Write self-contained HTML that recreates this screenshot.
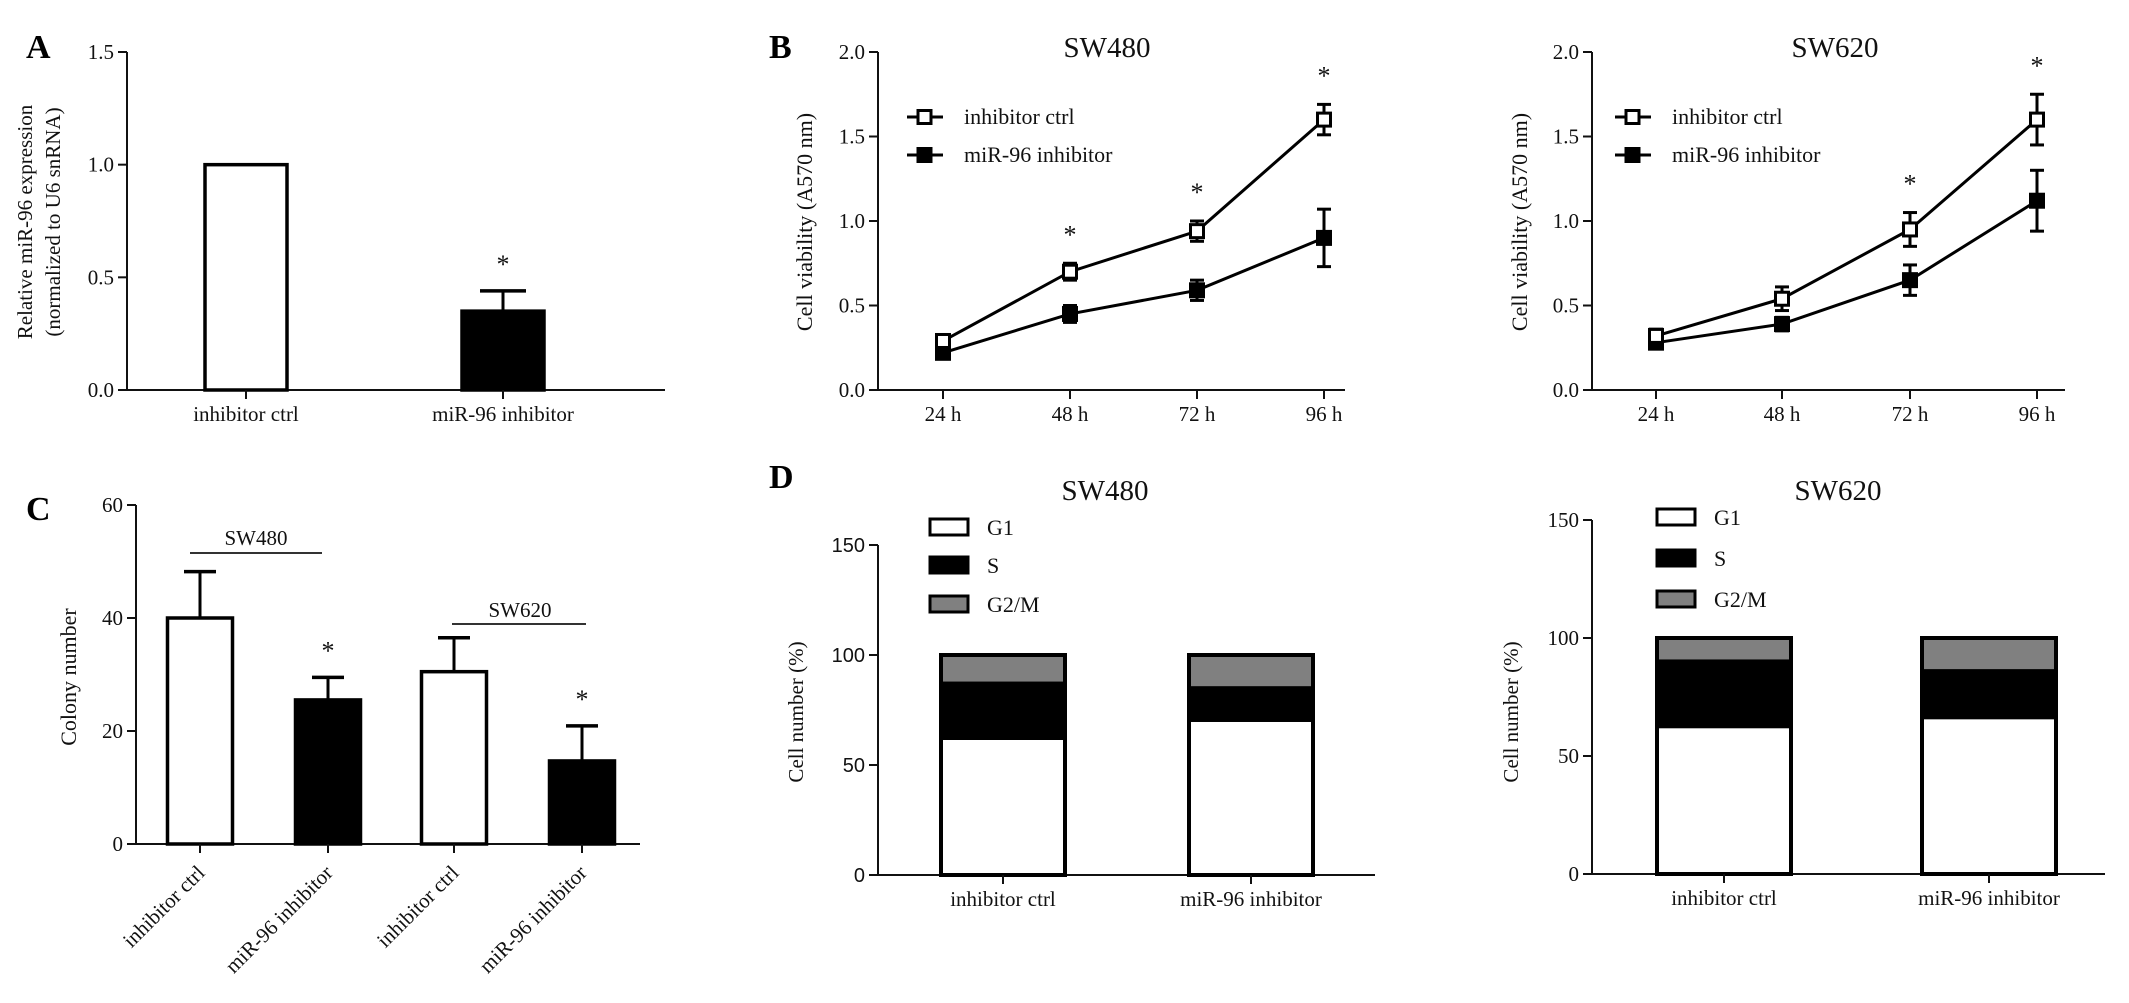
<!DOCTYPE html>
<html><head><meta charset="utf-8">
<style>
html,body{margin:0;padding:0;background:#fff;}
svg{display:block;font-family:"Liberation Serif",serif;}
</style></head>
<body>
<svg id="fig" width="2129" height="1003" viewBox="0 0 2129 1003" xmlns="http://www.w3.org/2000/svg"></svg>
<script>
// ---- Data ----
const aCategories = ["inhibitor ctrl", "miR-96 inhibitor"];
const aValues = [1.0, 0.35];
const aErrors = [0, 0.09];
const aTicks = ["0.0", "0.5", "1.0", "1.5"];

const bTimes = ["24 h", "48 h", "72 h", "96 h"];
const bTicks = ["0.0", "0.5", "1.0", "1.5", "2.0"];
const b480Ctrl = [0.29, 0.70, 0.94, 1.60];
const b480CtrlErr = [0.03, 0.05, 0.06, 0.09];
const b480Inh = [0.22, 0.45, 0.59, 0.90];
const b480InhErr = [0.02, 0.05, 0.06, 0.17];
const b480Sig = [false, true, true, true];
const b620Ctrl = [0.32, 0.54, 0.95, 1.60];
const b620CtrlErr = [0.04, 0.07, 0.10, 0.15];
const b620Inh = [0.28, 0.39, 0.65, 1.12];
const b620InhErr = [0.03, 0.04, 0.09, 0.18];
const b620Sig = [false, false, true, true];

const cCategories = ["inhibitor ctrl", "miR-96 inhibitor", "inhibitor ctrl", "miR-96 inhibitor"];
const cValues = [40, 25.5, 30.5, 14.7];
const cErrors = [8.2, 4.0, 6.0, 6.2];
const cTicks = ["0", "20", "40", "60"];

const dCategories = ["inhibitor ctrl", "miR-96 inhibitor"];
const dPhases = ["G1", "S", "G2/M"];
const dTicks = ["0", "50", "100", "150"];
const d480G1 = [61.6, 69.8];
const d480S = [26.1, 15.8];
const d480G2 = [12.3, 14.4];
const d620G1 = [62.0, 65.8];
const d620S = [28.7, 20.8];
const d620G2 = [9.3, 13.4];

// ---- Helpers ----
const NS = "http://www.w3.org/2000/svg";
const svg = document.getElementById("fig");
function mk(tag, attrs, parent) {
  const e = document.createElementNS(NS, tag);
  for (const k in attrs) e.setAttribute(k, attrs[k]);
  (parent || svg).appendChild(e);
  return e;
}
function txt(s, x, y, size, anchor, parent, extra) {
  const t = mk("text", Object.assign({x: x, y: y, "font-size": size, "text-anchor": anchor || "middle", fill: "#111"}, extra || {}), parent);
  t.textContent = s;
  return t;
}
function group(name) {
  const g = mk("g", {});
  
  
  return g;
}
function yAxis(g, x, y0, y1, ticks, size, sans) {
  const ax = mk("line", {x1: x, y1: y0 + 1, x2: x, y2: y1, stroke: "#111", "stroke-width": 2}, g);
  
  
  ticks.forEach((lab, i) => {
    const y = y0 + (y1 - y0) * i / (ticks.length - 1);
    mk("line", {x1: x - 9, y1: y, x2: x, y2: y, stroke: "#111", "stroke-width": 2}, g);
    const t = txt(lab, x - 13, y + 7, size || 21, "end", g, sans ? {"font-family": "Liberation Sans, sans-serif", "font-size": 20} : {});
    
    
  });
}
function xAxis(g, x0, x1, y) {
  const ax = mk("line", {x1: x0, y1: y, x2: x1, y2: y, stroke: "#111", "stroke-width": 2}, g);
  
  
}
function xTick(g, x, y, lab, size) {
  mk("line", {x1: x, y1: y, x2: x, y2: y + 9, stroke: "#111", "stroke-width": 2}, g);
  const t = txt(lab, x, y + 31, size || 21, "middle", g);
  
  
}
function vlabel(g, s, x, y, size) {
  const t = txt(s, x, y, size || 22, "middle", g, {transform: "rotate(-90 " + x + " " + y + ")"});
  
  
  return t;
}
function panelLetter(s, x, y) {
  const t = txt(s, x, y, 34, "start", svg, {"font-weight": "bold", fill: "#000"});
  
  
}
function star(g, x, y) {
  const t = txt("*", x, y + 16, 26, "middle", g);
  
  
}
function errBar(g, x, yTop, yBase, half) {
  mk("line", {x1: x, y1: yBase, x2: x, y2: yTop, stroke: "#000", "stroke-width": 3}, g);
  mk("line", {x1: x - half, y1: yTop, x2: x + half, y2: yTop, stroke: "#000", "stroke-width": 3.5}, g);
}

// ---- Panel A ----
(function(){
  const g = group("panel-a-expression-chart");
  const ax = 127, y0 = 390, y1 = 52;
  const yA = v => y0 - (v / 1.5) * (y0 - y1);
  const xs = [246, 503], w = 82;
  yAxis(g, ax, y0, y1, aTicks);
  xAxis(g, ax, 665, y0);
  aValues.forEach((v, i) => {
    const r = mk("rect", {x: xs[i] - w/2, y: yA(v), width: w, height: y0 - yA(v), fill: i ? "#000" : "#fff", stroke: "#000", "stroke-width": 3.5}, g);
    
    
    if (aErrors[i] > 0) { errBar(g, xs[i], yA(v + aErrors[i]), yA(v), 23); star(g, xs[i], yA(v + aErrors[i]) - 34); }
    xTick(g, xs[i], y0, aCategories[i]);
  });
  vlabel(g, "Relative miR-96 expression", 32, 222, 21);
  vlabel(g, "(normalized to U6 snRNA)", 60, 222, 21);
})();
panelLetter("A", 26, 58);

// ---- Panel B ----
function lineChart(name, ax, xs, xEnd, title, titleX, legX, ctrl, ctrlErr, inh, inhErr, sig, ylabX) {
  const g = group(name);
  const y0 = 390, y1 = 52;
  const yB = v => y0 - (v / 2.0) * (y0 - y1);
  yAxis(g, ax, y0, y1, bTicks);
  xAxis(g, ax, xEnd, y0);
  bTimes.forEach((t, i) => xTick(g, xs[i], y0, t));
  const tt = txt(title, titleX, 57, 29, "middle", g);
  
  
  vlabel(g, "Cell viability (A570 nm)", ylabX, 222, 22);
  [[inh, inhErr, "#000", "miR-96 inhibitor"], [ctrl, ctrlErr, "#fff", "inhibitor ctrl"]].forEach(([vals, errs, fill, lab]) => {
    const pts = vals.map((v, i) => xs[i] + "," + yB(v)).join(" ");
    const pl = mk("polyline", {points: pts, fill: "none", stroke: "#000", "stroke-width": 3}, g);
    
    
    vals.forEach((v, i) => {
      mk("line", {x1: xs[i], y1: yB(v + errs[i]), x2: xs[i], y2: yB(v - errs[i]), stroke: "#000", "stroke-width": 3}, g);
      mk("line", {x1: xs[i] - 7, y1: yB(v + errs[i]), x2: xs[i] + 7, y2: yB(v + errs[i]), stroke: "#000", "stroke-width": 3}, g);
      mk("line", {x1: xs[i] - 7, y1: yB(v - errs[i]), x2: xs[i] + 7, y2: yB(v - errs[i]), stroke: "#000", "stroke-width": 3}, g);
      const m = mk("rect", {x: xs[i] - 6.5, y: yB(v) - 6.5, width: 13, height: 13, fill: fill, stroke: "#000", "stroke-width": 3}, g);
      
      
    });
  });
  sig.forEach((s, i) => { if (s) star(g, xs[i], yB(ctrl[i] + ctrlErr[i]) - 36); });
  [["inhibitor ctrl", "#fff", 117], ["miR-96 inhibitor", "#000", 155]].forEach(([lab, fill, y]) => {
    const lg = mk("g", {}, g);
    
    
    mk("line", {x1: legX, y1: y, x2: legX + 36, y2: y, stroke: "#000", "stroke-width": 3}, lg);
    mk("rect", {x: legX + 11, y: y - 6.5, width: 13, height: 13, fill: fill, stroke: "#000", "stroke-width": 3}, lg);
    txt(lab, legX + 57, y + 7, 22, "start", lg);
  });
}
lineChart("panel-b-sw480-chart", 878, [943, 1070, 1197, 1324], 1345, "SW480", 1107, 907, b480Ctrl, b480CtrlErr, b480Inh, b480InhErr, b480Sig, 812);
lineChart("panel-b-sw620-chart", 1592, [1656, 1782, 1910, 2037], 2065, "SW620", 1835, 1615, b620Ctrl, b620CtrlErr, b620Inh, b620InhErr, b620Sig, 1527);
panelLetter("B", 769, 58);

// ---- Panel C ----
(function(){
  const g = group("panel-c-colony-chart");
  const ax = 136, y0 = 844, y1 = 505;
  const yC = v => y0 - (v / 60) * (y0 - y1);
  const xs = [200, 328, 454, 582], w = 65;
  yAxis(g, ax, y0, y1, cTicks);
  xAxis(g, ax, 640, y0);
  cValues.forEach((v, i) => {
    const black = i % 2 === 1;
    errBar(g, xs[i], yC(v + cErrors[i]), yC(v), 16);
    const r = mk("rect", {x: xs[i] - w/2, y: yC(v), width: w, height: y0 - yC(v), fill: black ? "#000" : "#fff", stroke: "#000", "stroke-width": 3.5}, g);
    
    
    if (black) star(g, xs[i], yC(v + cErrors[i]) - 34);
    mk("line", {x1: xs[i], y1: y0, x2: xs[i], y2: y0 + 9, stroke: "#111", "stroke-width": 2}, g);
    const t = txt(cCategories[i], xs[i] + 6, y0 + 30, 21, "end", g, {transform: "rotate(-45 " + (xs[i] + 6) + " " + (y0 + 30) + ")"});
    
    
  });
  mk("line", {x1: 190, y1: 553, x2: 322, y2: 553, stroke: "#333", "stroke-width": 2}, g);
  const s1 = txt("SW480", 256, 545, 21, "middle", g);  
  mk("line", {x1: 452, y1: 624, x2: 586, y2: 624, stroke: "#333", "stroke-width": 2}, g);
  const s2 = txt("SW620", 520, 617, 21, "middle", g);  
  vlabel(g, "Colony number", 76, 677, 22);
})();
panelLetter("C", 26, 520);

// ---- Panel D ----
function stackChart(name, ax, y0, y1, xs, w, xEnd, title, titleX, legX, legYs, g1, s, g2, ylabX, sans) {
  const g = group(name);
  const yD = v => y0 - (v / 150) * (y0 - y1);
  yAxis(g, ax, y0, y1, dTicks, 21, sans);
  xAxis(g, ax, xEnd, y0);
  const tt = txt(title, titleX, 500, 29, "middle", g);
  
  
  vlabel(g, "Cell number (%)", ylabX, 712, 21);
  dCategories.forEach((c, i) => {
    const segs = [[0, g1[i], "#fff"], [g1[i], g1[i] + s[i], "#000"], [g1[i] + s[i], g1[i] + s[i] + g2[i], "#808080"]];
    segs.forEach(([a, b, fill], k) => {
      const r = mk("rect", {x: xs[i] - w/2, y: yD(b), width: w, height: yD(a) - yD(b), fill: fill, stroke: "#000", "stroke-width": 1}, g);
      
      
    });
    const top = g1[i] + s[i] + g2[i];
    mk("rect", {x: xs[i] - w/2, y: yD(top), width: w, height: y0 - yD(top), fill: "none", stroke: "#000", "stroke-width": 4}, g);
    xTick(g, xs[i], y0, c);
  });
  dPhases.forEach((p, k) => {
    const lg = mk("g", {}, g);
    
    
    mk("rect", {x: legX, y: legYs[k] - 8, width: 38, height: 16, fill: ["#fff", "#000", "#808080"][k], stroke: "#000", "stroke-width": 3}, lg);
    txt(p, legX + 57, legYs[k] + 8, 22, "start", lg);
  });
}
stackChart("panel-d-sw480-chart", 878, 875, 545, [1003, 1251], 124, 1375, "SW480", 1105, 930, [527, 565, 604], d480G1, d480S, d480G2, 803, true);
stackChart("panel-d-sw620-chart", 1592, 874, 520, [1724, 1989], 134, 2105, "SW620", 1838, 1657, [517, 558, 599], d620G1, d620S, d620G2, 1518, false);
panelLetter("D", 769, 488);
</script>
</body></html>
